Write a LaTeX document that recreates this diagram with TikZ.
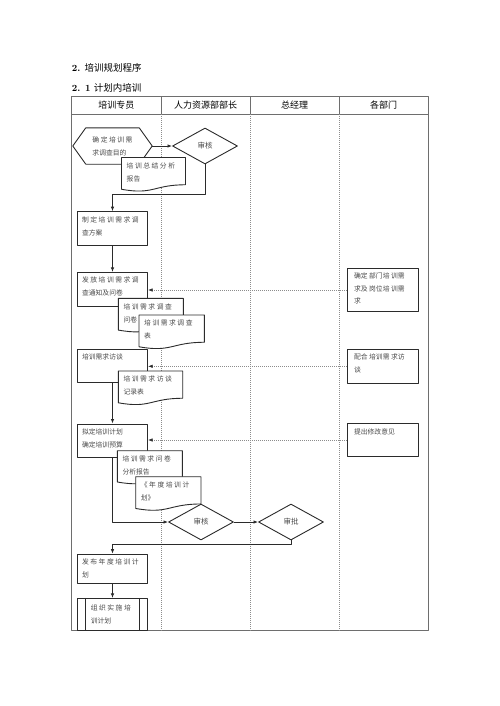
\documentclass[tikz,border=0pt]{standalone}
\usepackage{fontspec}
\newfontfamily\cjk{Noto Sans CJK SC}
\usetikzlibrary{shapes.geometric,arrows.meta}

\definecolor{flowline}{HTML}{2B2B2B}
\definecolor{laneline}{HTML}{6E6E6E}
\definecolor{laneguide}{HTML}{8C8C8C}
\definecolor{steptext}{HTML}{4A4A4A}

% Document symbol: white sheet with a wavy lower edge, text in its top left corner.
\newcommand{\docnode}[6]{%
  \filldraw[docline] (#2,#3) -- ({#2+#4},#3) -- ({#2+#4},{#3+0.802*#5})
    .. controls ({#2+0.5*#4},{#3+0.802*#5}) and ({#2+0.5*#4},{#3+1.1075*#5}) .. (#2,{#3+0.934*#5}) -- cycle;
  \node[boxtext] (#1) at (#2,#3) {#6};}

\begin{document}
\begin{tikzpicture}[x=1pt,y=-1pt,line join=round,
  procbox/.style={draw=flowline,line width=0.9pt,fill=white,minimum width=70.4pt,inner sep=0pt},
  boxline/.style={draw=flowline,line width=0.9pt},
  docline/.style={draw=flowline,line width=0.9pt,fill=white},
  decision/.style={diamond,draw=flowline,line width=0.9pt,fill=white,minimum width=65pt,
    minimum height=36pt,inner sep=0pt,text=steptext,font=\cjk\fontsize{7.5}{9}\selectfont},
  boxtext/.style={anchor=north west,align=left,inner xsep=5pt,inner ysep=5pt,text=steptext,
    font=\cjk\fontsize{6.8}{13}\selectfont},
  flow/.style={draw=flowline,line width=0.8pt,-{Latex[length=4.5pt,width=3.5pt]}},
  guide/.style={draw=laneguide,line width=0.6pt,dash pattern=on 1pt off 1pt,
    -{Latex[length=4.5pt,width=3.5pt,color=flowline]}},
  lanehead/.style={font=\cjk\fontsize{9}{11}\selectfont}]
  % Page frame of the scanned sheet.
  \useasboundingbox (0,0) rectangle (500,706);

  % Section headings above the swimlane table.
  \node[anchor=west,inner sep=0pt] (sec) at (71.7,68.3)
    {\fontsize{9.5}{11}\selectfont\textbf{2.} {\cjk 培训规划程序}};
  \node[anchor=west,inner sep=0pt] (subsec) at (71.7,88.3)
    {\fontsize{9.5}{11}\selectfont\textbf{2. 1} {\cjk 计划内培训}};

  % Swimlane frame: solid header, dotted lane dividers.
  \draw[laneline,line width=0.8pt] (71.7,96.7) rectangle (428,630.7);
  \draw[laneline,line width=0.8pt] (71.7,114) -- (428,114);
  \foreach \x in {161,250,339} {
    \draw[laneline,line width=0.8pt] (\x,96.7) -- (\x,114);
    \draw[laneguide,line width=0.6pt,dash pattern=on 1pt off 1pt] (\x,114) -- (\x,630.7);
  }
  \foreach \x/\lane/\txt in {116.3/lane1/培训专员,205.5/lane2/人力资源部部长,294.5/lane3/总经理,383.5/lane4/各部门}
    \node[lanehead] (\lane) at (\x,105.4) {\txt};

  % Start: hexagon with the goal of the survey.
  \node[align=left,minimum width=79pt,minimum height=36pt,inner sep=0pt,text=steptext,
    font=\cjk\fontsize{6.8}{13}\selectfont] (goal) at (112.5,146) {确 定 培 训 需\\求调查目的};
  \draw[boxline] (goal.west) -- ([xshift=13pt]goal.north west) -- ([xshift=-13pt]goal.north east)
    -- (goal.east) -- ([xshift=-13pt]goal.south east) -- ([xshift=13pt]goal.south west) -- cycle;
  \node[decision] (rev1) at (205,146) {审核};
  \docnode{report}{121.5}{157.5}{64}{34}{培 训 总 结 分 析\\报告}

  % Survey steps in the first lane.
  \node[procbox,minimum height=33.3pt] (plan) at (112.5,228.3) {};
  \node[boxtext] (plan-t) at (plan.north west) {制 定 培 训 需 求 调\\查方案};
  \node[procbox,minimum height=33.7pt] (notice) at (112.5,289.2) {};
  \node[boxtext] (notice-t) at (notice.north west) {发 放 培 训 需 求 调\\查通知及问卷};
  \docnode{survey}{118.3}{298.3}{65}{34}{培 训 需 求 调 查\\问卷}
  \docnode{sheet}{139}{315}{65.3}{34}{培 训 需 求 调 查\\表}
  \node[procbox,minimum height=33pt] (interview) at (112.5,365.5) {};
  \node[boxtext] (interview-t) at (interview.north west) {培训需求访谈};
  \docnode{record}{118.3}{371}{64.4}{34}{培 训 需 求 访 谈\\记录表}
  \node[procbox,minimum height=33pt] (draft) at (112.5,440.5) {};
  \node[boxtext] (draft-t) at (draft.north west) {拟定培训计划\\确定培训预算};
  \docnode{analysis}{117.3}{450.7}{65}{33.5}{培 训 需 求 问 卷\\分析报告}
  \docnode{yearplan}{135.7}{476.7}{65.3}{34}{《 年 度 培 训 计\\划》}

  % Review and approval.
  \node[decision] (rev2) at (201,522) {审核};
  \node[decision] (approve) at (291,522) {审批};

  % Release and execution.
  \node[procbox,minimum height=29.3pt] (publish) at (112.5,568.7) {};
  \node[boxtext] (publish-t) at (publish.north west) {发 布 年 度 培 训 计\\划};
  \node[procbox,minimum height=31.7pt] (organize) at (112.5,614.2) {};
  \draw[boxline] ([xshift=8.7pt]organize.north west) -- ([xshift=8.7pt]organize.south west)
    ([xshift=-8.4pt]organize.north east) -- ([xshift=-8.4pt]organize.south east);
  \node[boxtext,yshift=-2pt] (organize-t) at ([xshift=8.7pt]organize.north west) {组 织 实 施 培\\训计划};

  % Department lane.
  \node[procbox,minimum width=71pt,minimum height=43.4pt] (need) at (382.8,290) {};
  \node[boxtext,inner xsep=7pt,font=\cjk\fontsize{6.8}{12.5}\selectfont] (need-t) at (need.north west)
    {确定 部门培 训需\\求及 岗位培 训需\\求};
  \node[procbox,minimum width=71pt,minimum height=34pt] (support) at (382.8,366.3) {};
  \node[boxtext,inner xsep=7pt] (support-t) at (support.north west) {配合 培训需 求访\\谈};
  \node[procbox,minimum width=71pt,minimum height=33pt] (revise) at (382.8,440) {};
  \node[boxtext,inner xsep=7pt] (revise-t) at (revise.north west) {提出修改意见};

  % Connectors.
  \draw[flow] (goal.east) -- (rev1.west);
  \draw[flow] (rev1.south) -- ++(0,30) -| (plan.north);
  \draw[flow] (plan.south) -- (notice.north);
  \draw[flow] (interview.south) -- (draft.north);
  \draw[flow] (draft.south) |- (rev2.west);
  \draw[flow] (rev2.east) -- (approve.west);
  \draw[flow] (approve.south) -- ++(0,4) -| (publish.north);
  \draw[flow] (publish.south) -- (organize.north);
  \draw[guide] (need.west) -- (need.west -| notice.east);
  \draw[guide] (support.west) -- (support.west -| interview.east);
  \draw[guide] (revise.west) -- (revise.west -| draft.east);
\end{tikzpicture}
\end{document}
